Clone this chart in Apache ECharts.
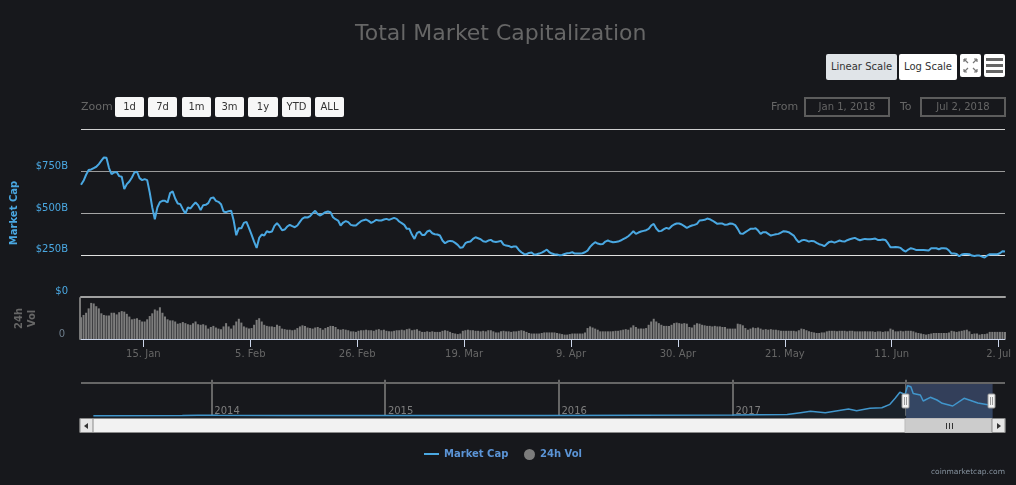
<!DOCTYPE html>
<html>
<head>
<meta charset="utf-8">
<title>Total Market Capitalization</title>
<script src="https://cdn.jsdelivr.net/npm/echarts@6/dist/echarts.min.js"></script>
<style>
  html, body { margin: 0; padding: 0; background: #17181c; }
  #wrap { position: relative; width: 1016px; height: 485px; overflow: hidden; font-family: "DejaVu Sans", sans-serif; font-size: 10px; }
  #chart { position: absolute; left: 0; top: 0; width: 1016px; height: 485px; }
  .btn, .lbl, .box, .icon { position: absolute; box-sizing: border-box; text-align: center; }
  .btn { top: 97px; height: 20px; line-height: 19px; background: #f7f7f7; color: #333; border-radius: 2px; }
  .lbl { top: 97px; height: 20px; line-height: 20px; color: #666; font-size: 11px; text-align: left; }
  .box { top: 97px; width: 86px; height: 20px; line-height: 16px; border: 2px solid #5c5c5c; color: #666; }
  .scale { top: 54px; height: 26px; line-height: 25px; }
  .icon { top: 54px; width: 21px; height: 23px; background: #fff; border-radius: 2px; }
  .icon svg { display: block; }
</style>
</head>
<body>
<div id="wrap">
  <div id="chart"></div>
  <div class="lbl" style="left:81px">Zoom</div>
  <div class="btn" style="left:115px;width:29px">1d</div>
  <div class="btn" style="left:148px;width:29px">7d</div>
  <div class="btn" style="left:182px;width:29px">1m</div>
  <div class="btn" style="left:215px;width:29px">3m</div>
  <div class="btn" style="left:248px;width:30px">1y</div>
  <div class="btn" style="left:282px;width:29px">YTD</div>
  <div class="btn" style="left:315px;width:29px">ALL</div>
  <div class="lbl" style="left:771px">From</div>
  <div class="box" style="left:804px">Jan 1, 2018</div>
  <div class="lbl" style="left:900px">To</div>
  <div class="box" style="left:920px">Jul 2, 2018</div>
  <div class="btn scale" style="left:826px;width:71px;background:#e0e4e8">Linear Scale</div>
  <div class="btn scale" style="left:899px;width:58px;background:#fff">Log Scale</div>
  <div class="icon" style="left:960px">
    <svg width="21" height="23" stroke="#777" stroke-width="1.2" fill="none">
      <path d="M4 5l4 4M4 5h3M4 5v3M17 5l-4 4M17 5h-3M17 5v3M4 18l4-4M4 18h3M4 18v-3M17 18l-4-4M17 18h-3M17 18v-3"/>
    </svg>
  </div>
  <div class="icon" style="left:984px">
    <svg width="21" height="23" fill="#666">
      <rect x="2" y="4" width="17" height="3"/><rect x="2" y="10" width="17" height="3"/><rect x="2" y="16" width="17" height="3"/>
    </svg>
  </div>
</div>
<script>
// half-daily samples starting 2 Jan 2018 18:00, $B
const startTime = Date.UTC(2018, 0, 2, 18)
const halfDay = 12 * 3600 * 1000

const marketCap = [
  669, 693, 729, 757, 761, 769, 777, 793, 813, 833, 831, 769, 733, 743, 745, 721, 717, 643, 673, 689,
  713, 743, 747, 709, 697, 703, 697, 623, 533, 463, 533, 565, 573, 573, 563, 619, 629, 587, 557, 553,
  523, 497, 533, 527, 547, 563, 547, 517, 547, 549, 559, 589, 593, 573, 567, 553, 509, 505, 511, 513,
  453, 367, 409, 409, 441, 447, 409, 371, 329, 291, 351, 371, 365, 391, 385, 389, 423, 439, 421, 397,
  401, 419, 429, 421, 415, 425, 447, 467, 475, 473, 481, 499, 513, 493, 485, 495, 505, 509, 505, 475,
  463, 455, 425, 443, 451, 445, 429, 425, 425, 439, 451, 457, 461, 453, 441, 449, 459, 455, 455, 461,
  465, 459, 465, 471, 465, 449, 439, 429, 405, 405, 371, 345, 379, 389, 369, 369, 389, 395, 379, 373,
  371, 365, 335, 319, 329, 333, 331, 321, 309, 291, 295, 319, 327, 329, 345, 355, 349, 343, 331, 327,
  335, 339, 329, 327, 329, 333, 311, 305, 303, 295, 299, 299, 279, 265, 255, 253, 261, 263, 251, 253,
  257, 263, 271, 281, 265, 257, 253, 251, 247, 249, 255, 259, 261, 265, 257, 257, 257, 259, 265, 275,
  297, 313, 325, 317, 313, 315, 329, 335, 329, 325, 327, 329, 335, 343, 351, 361, 375, 391, 375, 383,
  389, 393, 397, 405, 425, 435, 407, 391, 393, 403, 411, 405, 421, 431, 437, 437, 431, 421, 411, 419,
  425, 429, 435, 455, 457, 459, 467, 463, 455, 445, 435, 437, 437, 429, 431, 437, 435, 427, 405, 377,
  375, 385, 395, 405, 405, 409, 395, 375, 385, 385, 375, 365, 369, 373, 375, 383, 391, 389, 385, 375,
  365, 341, 325, 335, 339, 335, 329, 333, 331, 321, 313, 309, 301, 315, 327, 329, 323, 329, 335, 331,
  329, 337, 343, 347, 351, 343, 337, 341, 345, 343, 343, 345, 347, 339, 339, 341, 339, 319, 295, 295,
  297, 295, 291, 277, 269, 281, 289, 285, 279, 279, 279, 279, 277, 275, 289, 289, 289, 283, 289, 289,
  287, 275, 257, 257, 255, 241, 251, 255, 255, 253, 245, 243, 245, 245, 239, 233, 245, 253, 253, 253,
  253, 259, 271, 269
]

const volume24h = [
  40, 44, 48, 56, 66, 65, 60, 56, 47, 44, 43, 43, 48, 48, 45, 49, 51, 50, 46, 41,
  36, 37, 38, 35, 32, 32, 36, 42, 47, 54, 52, 58, 48, 41, 36, 34, 34, 32, 28, 29,
  31, 29, 27, 26, 29, 32, 27, 26, 27, 25, 19, 22, 24, 21, 19, 18, 23, 29, 23, 19,
  25, 32, 37, 30, 23, 21, 19, 20, 26, 35, 38, 32, 26, 24, 23, 23, 22, 26, 24, 19,
  18, 17, 17, 16, 17, 20, 23, 25, 24, 21, 20, 19, 21, 22, 20, 17, 20, 22, 24, 24,
  22, 18, 17, 18, 17, 16, 14, 14, 13, 15, 16, 16, 17, 16, 16, 15, 17, 18, 16, 17,
  15, 14, 14, 15, 16, 16, 17, 16, 18, 19, 16, 17, 18, 15, 13, 13, 14, 13, 14, 13,
  13, 13, 15, 16, 15, 13, 11, 10, 9, 10, 15, 16, 17, 16, 16, 15, 15, 14, 15, 14,
  16, 16, 14, 12, 12, 14, 15, 14, 14, 13, 14, 14, 15, 16, 15, 13, 11, 10, 10, 10,
  10, 11, 12, 12, 12, 12, 12, 11, 10, 9, 8, 8, 9, 10, 10, 10, 10, 10, 12, 20,
  23, 21, 19, 17, 14, 14, 14, 14, 14, 14, 15, 15, 16, 17, 18, 17, 21, 25, 22, 19,
  19, 19, 20, 26, 32, 37, 32, 29, 26, 24, 24, 24, 26, 29, 30, 29, 28, 29, 28, 22,
  21, 26, 29, 28, 26, 25, 24, 24, 23, 24, 23, 23, 22, 22, 19, 19, 19, 19, 28, 27,
  25, 20, 17, 19, 21, 20, 21, 19, 17, 18, 17, 18, 17, 17, 16, 15, 15, 15, 15, 15,
  15, 14, 16, 19, 18, 16, 14, 13, 12, 11, 11, 12, 12, 14, 15, 15, 15, 14, 15, 15,
  15, 14, 15, 15, 14, 14, 14, 14, 14, 14, 14, 14, 13, 14, 14, 13, 14, 14, 19, 17,
  14, 14, 15, 14, 15, 15, 15, 14, 12, 11, 10, 9, 8, 9, 10, 11, 11, 11, 11, 11,
  11, 12, 15, 14, 13, 14, 15, 16, 17, 14, 9, 10, 10, 8, 9, 9, 10, 13, 13, 13,
  13, 13, 13, 13
]

const tickDates = ['2018-01-15', '2018-02-05', '2018-02-26', '2018-03-19', '2018-04-09', '2018-04-30', '2018-05-21', '2018-06-11', '2018-07-02']
const tickLabels = ['15. Jan', '5. Feb', '26. Feb', '19. Mar', '9. Apr', '30. Apr', '21. May', '11. Jun', '2. Jul']

const yearDates = ['2014-01-01', '2015-01-01', '2016-01-01', '2017-01-01', '2018-01-01']
const yearLabels = ['2014', '2015', '2016', '2017', '2018']

const navDates = [
  '2013-04-28', '2013-11-01', '2013-12-04', '2014-01-15', '2014-06-01', '2015-01-01', '2015-12-01', '2016-06-15',
  '2017-01-01', '2017-04-26', '2017-05-24', '2017-06-14', '2017-07-15', '2017-09-02', '2017-09-19', '2017-10-17',
  '2017-11-11', '2017-11-28', '2017-12-09', '2017-12-19', '2017-12-25', '2017-12-30', '2018-01-04', '2018-01-11',
  '2018-01-16', '2018-01-31', '2018-02-06', '2018-02-21', '2018-03-07', '2018-03-18', '2018-04-09', '2018-05-03',
  '2018-06-01', '2018-06-25', '2018-07-02'
]
const navValues = [
  2, 3, 15, 10, 8, 4, 7, 11,
  18, 30, 80, 118, 80, 180, 135, 200,
  216, 307, 470, 632, 600, 572, 810, 780,
  600, 559, 397, 497, 424, 335, 262, 470,
  343, 289, 260
]
const selectedRange = ['2018-01-01', '2018-07-02']

const times = marketCap.map((v, i) => startTime + i * halfDay)
const tickValues = tickDates.map((d) => Date.parse(d))
const yearValues = yearDates.map((d) => Date.parse(d))

const blue = '#4aa8e2'
const font = '"DejaVu Sans", sans-serif'

const chart = echarts.init(document.getElementById('chart'))
chart.setOption({
  animation: false,
  backgroundColor: '#17181c',
  textStyle: { fontFamily: font },
  title: [
    { text: 'Total Market Capitalization', left: 350, top: 18, textStyle: { color: '#666', fontSize: 22, fontWeight: 'normal', fontFamily: font } },
    { text: 'coinmarketcap.com', right: 6, top: 463, textStyle: { color: '#85929e', fontSize: 7.5, fontWeight: 'normal', fontFamily: font } }
  ],
  legend: [
    {
      data: [{ name: 'Market Cap', icon: 'rect' }], left: 419, top: 444, itemWidth: 15, itemHeight: 2, itemGap: 4,
      textStyle: { color: '#5b94d6', fontSize: 10, fontWeight: 'bold', fontFamily: font }
    },
    {
      data: [{ name: '24h Vol', icon: 'circle' }], left: 519, top: 444, itemWidth: 11, itemHeight: 11, itemGap: 6,
      textStyle: { color: '#5b94d6', fontSize: 10, fontWeight: 'bold', fontFamily: font }
    }
  ],
  grid: [
    { left: 81, right: 11, top: 129.5, height: 167 },
    { left: 81, right: 11, top: 298, height: 41 },
    { left: 81, right: 11, top: 383, height: 36 }
  ],
  xAxis: [
    {
      gridIndex: 0, type: 'value', min: times[0], max: times[times.length - 1],
      axisLine: { lineStyle: { color: '#a0a0a0', width: 2 } },
      axisTick: { show: false }, axisLabel: { show: false }, splitLine: { show: false }
    },
    {
      gridIndex: 1, type: 'value', min: times[0], max: times[times.length - 1],
      axisLine: { lineStyle: { color: '#ccd6eb' } },
      axisTick: { length: 8, lineStyle: { color: '#ccd6eb' }, customValues: tickValues },
      axisLabel: {
        customValues: tickValues, color: '#666', fontSize: 10, margin: 10, hideOverlap: false,
        formatter: (v) => tickLabels[tickValues.indexOf(+v)]
      },
      splitLine: { show: false }
    },
    {
      gridIndex: 2, type: 'value', min: Date.parse('2013-04-02'), max: Date.parse('2018-07-28'),
      axisLine: { show: false },
      axisTick: { inside: true, length: 36, lineStyle: { color: '#666', width: 2 }, customValues: yearValues },
      axisLabel: {
        inside: true, customValues: yearValues, color: '#7d7d7d', fontSize: 10, margin: 3, align: 'left', padding: [0, 0, 0, 3], hideOverlap: false,
        formatter: (v) => yearLabels[yearValues.indexOf(+v)]
      },
      splitLine: { show: false }
    }
  ],
  yAxis: [
    {
      gridIndex: 0, type: 'value', min: 0, max: 1000, interval: 250,
      name: 'Market Cap', nameLocation: 'middle', nameGap: 62, nameRotate: 90,
      nameTextStyle: { color: blue, fontSize: 10, fontWeight: 'bold', fontFamily: font },
      axisLine: { show: false }, axisTick: { show: false },
      axisLabel: {
        color: blue, fontSize: 10, margin: 13, verticalAlign: 'bottom',
        formatter: (v) => (v === 1000 ? '' : v === 0 ? '$0' : '$' + v + 'B')
      },
      splitLine: { lineStyle: { color: ['#a0a0a0', '#e0e0e0', '#a6a6a6', '#9a9a9a', '#cfcfcf'], width: 1 } }
    },
    {
      gridIndex: 1, type: 'value', min: 0, max: 75, interval: 75, offset: 1,
      name: '24h\nVol', nameLocation: 'middle', nameGap: 41, nameRotate: 90,
      nameTextStyle: { color: '#666', fontSize: 10, fontWeight: 'bold', lineHeight: 13, fontFamily: font },
      axisLine: { show: true, lineStyle: { color: '#777', width: 2 } }, axisTick: { show: false },
      axisLabel: {
        color: '#6e7e8c', fontSize: 10, margin: 15, verticalAlign: 'bottom',
        formatter: (v) => (v === 0 ? '0' : '')
      },
      splitLine: { show: false }
    },
    {
      gridIndex: 2, type: 'value', min: -89, max: 883, show: false, splitLine: { show: false }
    }
  ],
  series: [
    {
      name: 'Market Cap', type: 'line', xAxisIndex: 0, yAxisIndex: 0, showSymbol: false, symbol: 'none',
      data: times.map((t, i) => [t, marketCap[i]]),
      lineStyle: { color: blue, width: 2 }, itemStyle: { color: blue }
    },
    {
      name: '24h Vol', type: 'bar', xAxisIndex: 1, yAxisIndex: 1, barWidth: 2,
      data: times.map((t, i) => [t, volume24h[i]]),
      itemStyle: { color: '#7c7c7c' }
    },
    {
      name: 'Navigator', type: 'line', xAxisIndex: 2, yAxisIndex: 2, showSymbol: false, symbol: 'none',
      data: navDates.map((d, i) => [Date.parse(d), navValues[i]]),
      lineStyle: { color: '#4196cc', width: 1.5 },
      areaStyle: { color: 'rgba(74,168,226,0.1)', origin: 'start' },
      markArea: {
        silent: true,
        itemStyle: { color: '#333f5a' },
        data: [[{ xAxis: Date.parse(selectedRange[0]) }, { xAxis: Date.parse(selectedRange[1]) }]]
      }
    }
  ],
  graphic: [
    // navigator top line
    { type: 'rect', shape: { x: 81, y: 382, width: 924, height: 2 }, style: { fill: '#666' }, z: 5 },
    // scrollbar
    { type: 'rect', shape: { x: 80, y: 418.5, width: 925, height: 14 }, style: { fill: '#f2f2f2', stroke: '#8a8a8a', lineWidth: 1 }, z: 10 },
    { type: 'rect', shape: { x: 80, y: 418.5, width: 13, height: 14 }, style: { fill: '#e6e6e6', stroke: '#8a8a8a', lineWidth: 1 }, z: 11 },
    { type: 'rect', shape: { x: 905, y: 418.5, width: 87, height: 14 }, style: { fill: '#cccccc', stroke: '#bbb', lineWidth: 1 }, z: 11 },
    { type: 'rect', shape: { x: 992, y: 418.5, width: 13, height: 14 }, style: { fill: '#e6e6e6', stroke: '#8a8a8a', lineWidth: 1 }, z: 11 },
    { type: 'polygon', shape: { points: [[88, 423], [88, 429], [84, 426]] }, style: { fill: '#333' }, z: 12 },
    { type: 'polygon', shape: { points: [[997, 423], [997, 429], [1001, 426]] }, style: { fill: '#333' }, z: 12 },
    { type: 'rect', shape: { x: 946, y: 423, width: 1, height: 6 }, style: { fill: '#333' }, z: 12 },
    { type: 'rect', shape: { x: 949, y: 423, width: 1, height: 6 }, style: { fill: '#333' }, z: 12 },
    { type: 'rect', shape: { x: 952, y: 423, width: 1, height: 6 }, style: { fill: '#333' }, z: 12 },
    // navigator handles
    { type: 'rect', shape: { x: 902, y: 394, width: 7, height: 14, r: 1 }, style: { fill: '#f2f2f2', stroke: '#999' }, z: 13 },
    { type: 'rect', shape: { x: 904, y: 397, width: 1, height: 8 }, style: { fill: '#999' }, z: 14 },
    { type: 'rect', shape: { x: 906, y: 397, width: 1, height: 8 }, style: { fill: '#999' }, z: 14 },
    { type: 'rect', shape: { x: 988, y: 394, width: 7, height: 14, r: 1 }, style: { fill: '#f2f2f2', stroke: '#999' }, z: 13 },
    { type: 'rect', shape: { x: 990, y: 397, width: 1, height: 8 }, style: { fill: '#999' }, z: 14 },
    { type: 'rect', shape: { x: 992, y: 397, width: 1, height: 8 }, style: { fill: '#999' }, z: 14 }
  ]
})
</script>
</body>
</html>
